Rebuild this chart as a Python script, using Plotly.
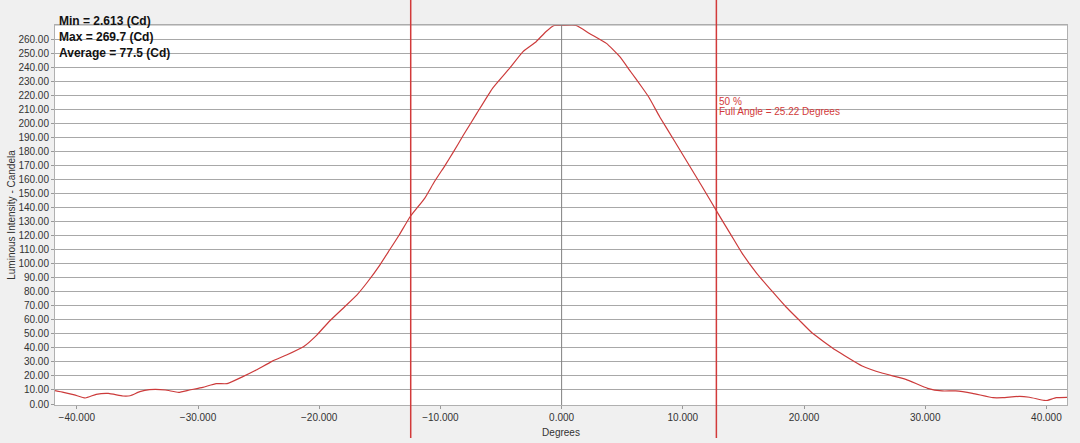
import plotly.graph_objects as go

degrees = [-41.8, -41.1, -40.2, -39.3, -38.4, -37.4, -36.2, -35.6, -34.8, -34.0,
           -32.7, -31.6, -30.7, -29.6, -28.5, -27.6, -26.3, -25.2, -23.9, -22.7,
           -21.3, -20.2, -19.2, -17.9, -16.9, -16.0, -15.0, -14.2, -13.4, -12.5,
           -11.3, -10.5, -9.6, -9.0, -8.1, -7.0, -5.7, -4.3, -3.2, -2.1,
           -1.3, -0.6, 0.0, 1.2, 2.3, 3.7, 4.8, 5.7, 6.6, 7.2,
           8.1, 9.3, 10.6, 11.6, 12.9, 13.9, 14.9, 16.1, 17.4, 18.5,
           19.6, 20.7, 22.6, 24.8, 26.5, 28.4, 30.2, 31.4, 32.5, 33.9,
           35.6, 36.4, 37.8, 38.6, 39.8, 40.1, 40.8, 41.7]
candela = [9.5, 8.3, 6.5, 4.3, 6.9, 7.6, 5.7, 5.9, 8.8, 10.2,
           10.0, 8.3, 10.0, 11.9, 14.5, 14.5, 19.5, 24.2, 30.4, 34.9,
           40.8, 49.1, 58.6, 69.3, 77.6, 87.1, 99.0, 109.7, 120.4, 133.4,
           146.5, 158.3, 170.2, 178.5, 191.6, 207.0, 224.9, 239.1, 250.9, 258.1,
           265.2, 269.7, 269.7, 269.7, 264.0, 256.9, 247.4, 236.7, 226.0, 218.5,
           204.5, 187.5, 169.0, 154.8, 135.8, 121.6, 107.3, 93.1, 80.0, 69.3,
           59.8, 50.4, 38.5, 27.1, 21.9, 17.6, 11.2, 9.3, 9.3, 7.6,
           4.5, 4.5, 5.5, 4.8, 2.6, 2.6, 4.5, 4.8]

half_angle_left = -12.45
half_angle_right = 12.77
stats_lines = ["Min = 2.613 (Cd)", "Max = 269.7 (Cd)", "Average = 77.5 (Cd)"]
x_ticks = [-40, -30, -20, -10, 0, 10, 20, 30, 40]
y_ticks = list(range(0, 261, 10))

RED = "#d23a3a"
GRID = "#a8a8a8"

fig = go.Figure()
fig.add_trace(go.Scatter(x=degrees, y=candela, mode="lines",
                         line=dict(color="#cc3b3b", width=1.2,
                                   shape="spline", smoothing=0.4),
                         hoverinfo="x+y", showlegend=False))

# top border grid line
fig.add_shape(type="line", xref="paper", yref="paper", x0=0, x1=1, y0=1, y1=1,
              line=dict(color=GRID, width=1))
# center line
fig.add_shape(type="line", xref="x", yref="paper", x0=0, x1=0, y0=0, y1=1,
              line=dict(color="#808080", width=1))
# 50% lines
for xv in (half_angle_left, half_angle_right):
    fig.add_shape(type="line", xref="x", yref="paper", x0=xv, x1=xv,
                  y0=-0.087, y1=1.07, line=dict(color=RED, width=1.5))

fig.add_annotation(x=half_angle_right, xref="x", y=0.818, yref="paper",
                   text="50 %", showarrow=False, xanchor="left", xshift=1,
                   font=dict(family="Arial", size=10, color=RED))
fig.add_annotation(x=half_angle_right, xref="x", y=0.792, yref="paper",
                   text="Full Angle = 25.22 Degrees", showarrow=False,
                   xanchor="left", xshift=1,
                   font=dict(family="Arial", size=10, color=RED))

for i, t in enumerate(stats_lines):
    fig.add_annotation(x=0.002, xref="paper", y=1.011 - i * 0.042, yref="paper",
                       text="<b>" + t + "</b>", showarrow=False,
                       xanchor="left", yanchor="middle",
                       font=dict(family="Arial", size=12, color="#111111"))

fig.update_layout(
    width=1080, height=443,
    margin=dict(l=55, r=13, t=25, b=38),
    paper_bgcolor="#f0f0f0", plot_bgcolor="#ffffff",
    font=dict(family="Arial", size=10, color="#333333"),
    xaxis=dict(range=[-41.8, 41.7], tickvals=x_ticks, tickformat=".3f",
               showgrid=False, zeroline=False, ticks="outside", ticklen=3,
               tickcolor="#999999", showline=True, linecolor="#b0b0b0",
               mirror=True, automargin=False,
               title=dict(text="Degrees", font=dict(size=10, color="#333333"),
                          standoff=6)),
    yaxis=dict(range=[-0.7, 270], tickvals=y_ticks, tickformat=".2f",
               showgrid=True, gridcolor=GRID, gridwidth=1, zeroline=False,
               ticks="outside", ticklen=3, tickcolor="#999999",
               showline=True, linecolor="#b0b0b0", mirror=True,
               automargin=False,
               title=dict(text="Luminous Intensity - Candela",
                          font=dict(size=10, color="#333333"), standoff=0)),
)

fig.write_html("out.html", config={"displayModeBar": False},
               post_script="document.body.style.margin='0';document.body.style.overflow='hidden';")
